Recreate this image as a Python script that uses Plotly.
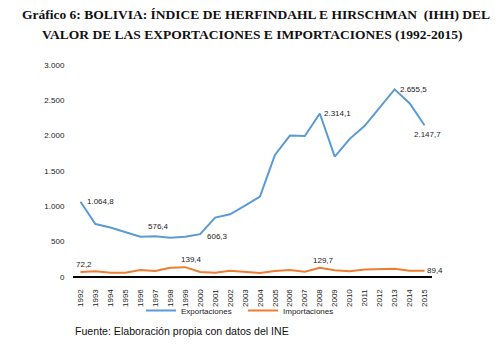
import plotly.graph_objects as go

years = [str(y) for y in range(1992, 2016)]
exportaciones = [1064.8, 750, 700, 640, 571, 576.4, 557, 570, 606.3, 840, 888, 1010, 1138,
                 1728, 2002, 1995, 2314.1, 1704, 1955, 2139, 2398, 2655.5, 2460, 2147.7]
importaciones = [72.2, 80, 60, 60, 100, 85, 130, 139.4, 70, 60, 90, 70, 55,
                 85, 100, 75, 129.7, 95, 80, 105, 105, 115, 90, 89.4]
y_ticks = [0, 500, 1000, 1500, 2000, 2500, 3000]
y_tick_labels = ["0", "500", "1.000", "1.500", "2.000", "2.500", "3.000"]

def fmt(v):
    s = f"{v:,.1f}"
    return s.replace(",", "X").replace(".", ",").replace("X", ".")

fig = go.Figure()
fig.add_trace(go.Scatter(x=years, y=exportaciones, mode="lines", name="Exportaciones",
                         line=dict(color="#5B9BD5", width=2)))
fig.add_trace(go.Scatter(x=years, y=importaciones, mode="lines", name="Importaciones",
                         line=dict(color="#ED7D31", width=2)))

lab_font = dict(family="Liberation Sans, Arial", size=8, color="#222222")
# (series, index, xshift, yshift)
labels = [
    (exportaciones, 0, 20, 0),
    (exportaciones, 5, 3, 10),
    (exportaciones, 8, 17, -2),
    (exportaciones, 16, 18, 0),
    (exportaciones, 21, 19, 0),
    (exportaciones, 23, 3, -9),
    (importaciones, 0, 4, 7),
    (importaciones, 7, 6, 8),
    (importaciones, 16, 4, 7),
    (importaciones, 23, 10, 0),
]
for ser, i, xs, ys in labels:
    fig.add_annotation(x=i, y=ser[i], xref="x", yref="y", text=fmt(ser[i]), showarrow=False,
                       xshift=xs, yshift=ys, font=lab_font)

title_font = dict(family="Liberation Serif, Times New Roman", size=13.5, color="#111111")
fig.add_annotation(xref="paper", yref="paper", x=0.5, y=1 + (65 - 14) / 212, xanchor="center",
                   yanchor="middle", showarrow=False, font=title_font,
                   text="<b>Gráfico 6: BOLIVIA: ÍNDICE DE HERFINDAHL E HIRSCHMAN  (IHH) DEL</b>", xshift=3)
fig.add_annotation(xref="paper", yref="paper", x=0.5, y=1 + (65 - 35) / 212, xanchor="center",
                   yanchor="middle", showarrow=False, font=title_font,
                   text="<b>VALOR DE LAS EXPORTACIONES E IMPORTACIONES (1992-2015)</b>")

fig.add_annotation(xref="paper", yref="paper", x=0, y=-(331 - 277) / 212, xanchor="left", yanchor="middle",
                   text="Fuente: Elaboración propia con datos del INE", showarrow=False,
                   font=dict(family="Liberation Sans, Arial", size=10.6, color="#111111"))

fig.update_layout(
    width=501, height=344,
    margin=dict(l=73, r=69, t=65, b=67),
    paper_bgcolor="white", plot_bgcolor="white",
    showlegend=True,
    legend=dict(orientation="h", x=(141 - 73) / 359, xanchor="left", y=-(296 - 277) / 212, yanchor="top",
                bgcolor="rgba(0,0,0,0)",
                font=dict(family="Liberation Sans, Arial", size=8, color="#222222"),
                itemwidth=30, tracegroupgap=0, entrywidth=57, entrywidthmode="pixels"),
)
fig.update_xaxes(type="category", range=[-0.5, 23.5], tickangle=-90, showgrid=False,
                 showline=False, ticks="outside", ticklen=8, tickcolor="rgba(0,0,0,0)",
                 tickfont=dict(family="Liberation Sans, Arial", size=8, color="#222222"),
                 zeroline=False)
fig.update_yaxes(range=[0, 3000], tickvals=y_ticks, ticktext=y_tick_labels, showgrid=False,
                 zeroline=True, zerolinecolor="black", zerolinewidth=1.5, showline=False,
                 ticks="outside", ticklen=6, tickcolor="rgba(0,0,0,0)",
                 tickfont=dict(family="Liberation Sans, Arial", size=8, color="#222222"))

fig.write_html("out.html")
